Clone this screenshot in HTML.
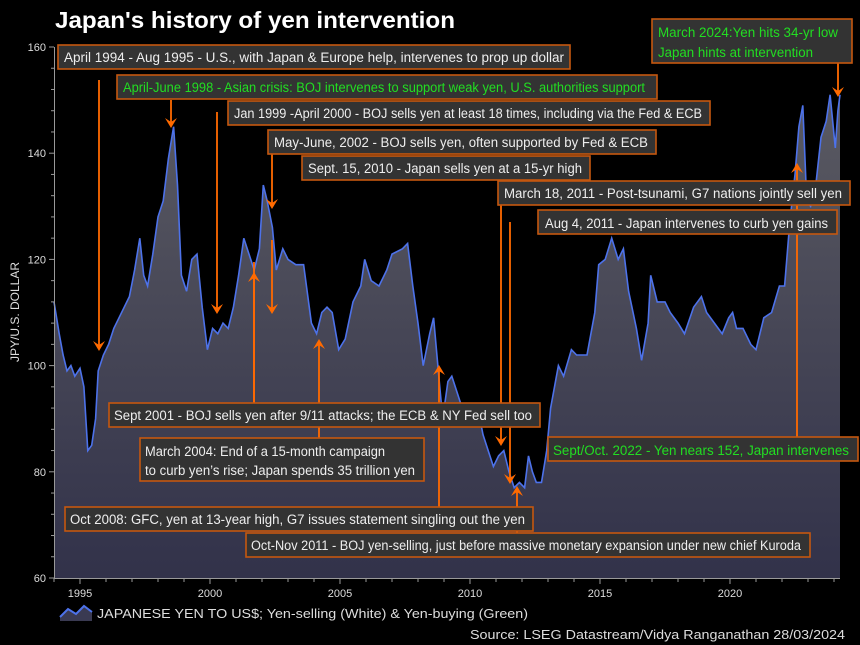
<!DOCTYPE html>
<html><head><meta charset="utf-8"><style>
html,body{margin:0;padding:0;background:#000;}
svg{display:block;font-family:"Liberation Sans",sans-serif;}
.bx{fill:#333333;stroke:#c5570f;stroke-width:1.6;}
.t{fill:#eeeeee;font-size:13.5px;}
.g{fill:#22dd22;font-size:13.5px;}
.ar{stroke:#ff6a00;stroke-width:1.8;fill:none;}
.ah{fill:#ff6a00;}
.tk{fill:#dddddd;font-size:11px;}
</style></head><body>
<svg id="s" width="860" height="645" viewBox="0 0 860 645">
<defs><linearGradient id="gr" x1="0" y1="0" x2="0" y2="1">
<stop offset="0" stop-color="#5a5a62"/><stop offset="1" stop-color="#32324a"/></linearGradient></defs>
<rect width="860" height="645" fill="#000"/>
<text x="55" y="28" fill="#fff" font-size="23" font-weight="bold" textLength="400" lengthAdjust="spacingAndGlyphs">Japan's history of yen intervention</text>
<path id="area" fill="url(#gr)"/>
<path id="line" fill="none" stroke="#4d72ea" stroke-width="1.6"/>
<g id="axes" stroke="#999" stroke-width="1"></g>
<g id="labs"></g>
<text transform="translate(19,312) rotate(-90)" fill="#ddd" font-size="12" text-anchor="middle">JPY/U.S. DOLLAR</text>

<g id="arrows"></g>

<g lengthAdjust="spacingAndGlyphs">
<rect class="bx" x="58" y="45" width="512" height="24"/><text class="t" x="64" y="62" textLength="500" lengthAdjust="spacingAndGlyphs">April 1994 - Aug 1995 - U.S., with Japan &amp; Europe help, intervenes to prop up dollar</text>
<rect class="bx" x="117" y="75" width="540" height="24"/><text class="g" x="123" y="92" textLength="522" lengthAdjust="spacingAndGlyphs">April-June 1998 - Asian crisis: BOJ intervenes to support weak yen, U.S. authorities support</text>
<rect class="bx" x="228" y="101" width="482" height="24"/><text class="t" x="234" y="118" textLength="468" lengthAdjust="spacingAndGlyphs">Jan 1999 -April 2000 - BOJ sells yen at least 18 times, including via the Fed &amp; ECB</text>
<rect class="bx" x="268" y="130" width="388" height="24"/><text class="t" x="274" y="147" textLength="374" lengthAdjust="spacingAndGlyphs">May-June, 2002 - BOJ sells yen, often supported by Fed &amp; ECB</text>
<rect class="bx" x="302" y="156" width="288" height="24"/><text class="t" x="308" y="173" textLength="274" lengthAdjust="spacingAndGlyphs">Sept. 15, 2010 - Japan sells yen at a 15-yr high</text>
<rect class="bx" x="498" y="181" width="352" height="24"/><text class="t" x="504" y="198" textLength="338" lengthAdjust="spacingAndGlyphs">March 18, 2011 - Post-tsunami, G7 nations jointly sell yen</text>
<rect class="bx" x="538" y="210" width="299" height="24"/><text class="t" x="545" y="228" textLength="283" lengthAdjust="spacingAndGlyphs">Aug 4, 2011 - Japan intervenes to curb yen gains</text>
<rect class="bx" x="652" y="19" width="200" height="44"/><text class="g" x="658" y="37" textLength="180" lengthAdjust="spacingAndGlyphs">March 2024:Yen hits 34-yr low</text><text class="g" x="658" y="57" textLength="155" lengthAdjust="spacingAndGlyphs">Japan hints at intervention</text>
<rect class="bx" x="109" y="403" width="431" height="24"/><text class="t" x="114" y="420" textLength="418" lengthAdjust="spacingAndGlyphs">Sept 2001 - BOJ sells yen after 9/11 attacks; the ECB &amp; NY Fed sell too</text>
<rect class="bx" x="140" y="438" width="284" height="43"/><text class="t" x="145" y="456" textLength="240" lengthAdjust="spacingAndGlyphs">March 2004: End of a 15-month campaign</text><text class="t" x="145" y="475" textLength="270" lengthAdjust="spacingAndGlyphs">to curb yen’s rise; Japan spends 35 trillion yen</text>
<rect class="bx" x="65" y="507" width="468" height="24"/><text class="t" x="70" y="524" textLength="455" lengthAdjust="spacingAndGlyphs">Oct 2008: GFC, yen at 13-year high, G7 issues statement singling out the yen</text>
<rect class="bx" x="246" y="533" width="564" height="24"/><text class="t" x="251" y="550" textLength="550" lengthAdjust="spacingAndGlyphs">Oct-Nov 2011 - BOJ yen-selling, just before massive monetary expansion under new chief Kuroda</text>
<rect class="bx" x="548" y="437" width="310" height="24"/><text class="g" x="553" y="455" textLength="296" lengthAdjust="spacingAndGlyphs">Sept/Oct. 2022 - Yen nears 152, Japan intervenes</text>
</g>

<path d="M60 617 L68 609 L76 614 L84 606 L92 612 L92 621 L60 621Z" fill="#3a3a52"/>
<path d="M60 617 L68 609 L76 614 L84 606 L92 612" fill="none" stroke="#4d72ea" stroke-width="2"/>
<text x="97" y="618" fill="#ddd" font-size="13" textLength="431" lengthAdjust="spacingAndGlyphs">JAPANESE YEN TO US$; Yen-selling (White) &amp; Yen-buying (Green)</text>
<text x="470" y="639" fill="#ddd" font-size="13" textLength="375" lengthAdjust="spacingAndGlyphs">Source: LSEG Datastream/Vidya Ranganathan 28/03/2024</text>
</svg>
<script>
var X=function(y){return 210+(y-2000)*26;},Y=function(v){return 578-(v-60)*5.31;};
var d=[[1994,112],[1994.2,106],[1994.35,102],[1994.5,99],[1994.65,100],[1994.8,98],[1995,99.5],[1995.15,96],[1995.3,84],[1995.45,85],[1995.6,90],[1995.7,99],[1995.9,102],[1996.1,104],[1996.3,107],[1996.5,109],[1996.7,111],[1996.9,113],[1997.1,118],[1997.3,124],[1997.45,117],[1997.6,115],[1997.8,121],[1998,128],[1998.2,131],[1998.4,139],[1998.6,145],[1998.75,134],[1998.9,117],[1999.1,114],[1999.3,120],[1999.5,121],[1999.7,111],[1999.9,103],[2000.1,107],[2000.3,106],[2000.5,108],[2000.7,107],[2000.9,111],[2001.1,117],[2001.3,124],[2001.5,121],[2001.7,118],[2001.9,122],[2002.05,134],[2002.2,131],[2002.4,126],[2002.55,118],[2002.8,122],[2003,120],[2003.3,119],[2003.6,119],[2003.9,108],[2004.1,106],[2004.3,110],[2004.5,111],[2004.7,110],[2004.95,103],[2005.2,105],[2005.5,112],[2005.8,115],[2005.95,120],[2006.2,116],[2006.5,115],[2006.8,118],[2007,121],[2007.4,122],[2007.6,123],[2007.8,115],[2008,108],[2008.2,100],[2008.45,106],[2008.6,109],[2008.8,98],[2008.95,90],[2009.15,97],[2009.3,98],[2009.5,95],[2009.7,92],[2009.9,89],[2010.1,91],[2010.3,92],[2010.5,87],[2010.7,84],[2010.9,81],[2011.1,83],[2011.3,84],[2011.5,80],[2011.7,77],[2011.9,78],[2012.1,77],[2012.25,83],[2012.4,80],[2012.55,78],[2012.75,78],[2012.95,84],[2013.1,92],[2013.4,100],[2013.6,98],[2013.9,103],[2014.1,102],[2014.5,102],[2014.8,110],[2014.95,119],[2015.2,120],[2015.45,124],[2015.7,120],[2015.9,122],[2016.1,114],[2016.4,107],[2016.6,101],[2016.85,108],[2016.95,117],[2017.2,112],[2017.5,112],[2017.7,110],[2018,108],[2018.25,106],[2018.6,111],[2018.9,113],[2019.1,110],[2019.4,108],[2019.7,106],[2019.95,109],[2020.1,110],[2020.25,107],[2020.5,107],[2020.8,104],[2021,103],[2021.3,109],[2021.6,110],[2021.9,115],[2022.1,115],[2022.3,127],[2022.5,136],[2022.65,145],[2022.8,149],[2022.95,131],[2023.1,130],[2023.3,134],[2023.5,143],[2023.7,146],[2023.85,151],[2023.95,146],[2024.05,141],[2024.15,148],[2024.23,151]];
var p="",i;for(i=0;i<d.length;i++){p+=(i?"L":"M")+X(d[i][0]).toFixed(1)+" "+Y(d[i][1]).toFixed(1);}
document.getElementById("line").setAttribute("d",p);
document.getElementById("area").setAttribute("d",p+"L"+X(2024.23).toFixed(1)+" 578 L"+X(1994)+" 578Z");
var ax=document.getElementById("axes"),lb=document.getElementById("labs"),h="";
h+='<line x1="54.5" y1="47" x2="54.5" y2="578"/><line x1="54" y1="578.5" x2="840" y2="578.5"/>';
for(var v=60;v<=160;v+=4){var yy=Y(v);h+='<line x1="'+(v%20?51:49)+'" x2="54" y1="'+yy+'" y2="'+yy+'"/>';}
for(var y=1994;y<=2024;y++){var xx=X(y);h+='<line x1="'+xx+'" x2="'+xx+'" y1="578" y2="'+(y%5?582:584)+'"/>';}
ax.innerHTML=h;
var l="";for(v=60;v<=160;v+=20)l+='<text class="tk" x="46" y="'+(Y(v)+4)+'" text-anchor="end">'+v+'</text>';
for(y=1995;y<=2020;y+=5)l+='<text class="tk" x="'+X(y)+'" y="597" text-anchor="middle">'+y+'</text>';
lb.innerHTML=l;
function dn(x,a,b){return '<line class="ar" x1="'+x+'" y1="'+a+'" x2="'+x+'" y2="'+(b-2)+'"/><path class="ah" d="M'+(x-6)+' '+(b-10)+'L'+x+' '+b+'L'+(x+6)+' '+(b-10)+'L'+x+' '+(b-6)+'Z"/>';}
function up(x,a,b){return '<line class="ar" x1="'+x+'" y1="'+a+'" x2="'+x+'" y2="'+(b+2)+'"/><path class="ah" d="M'+(x-6)+' '+(b+10)+'L'+x+' '+b+'L'+(x+6)+' '+(b+10)+'L'+x+' '+(b+6)+'Z"/>';}
document.getElementById("arrows").innerHTML=
dn(99,80,351)+dn(171,100,128)+dn(217,112,314)+dn(272,154,209)+dn(272,240,314)+
'<line class="ar" x1="254" y1="262" x2="254" y2="403"/>'+
up(254,403,272)+up(319,438,339)+up(439,507,365)+dn(501,205,446)+dn(510,222,484)+up(517,557,486)+
up(797,437,163)+dn(838,63,97);
</script>
</body></html>
